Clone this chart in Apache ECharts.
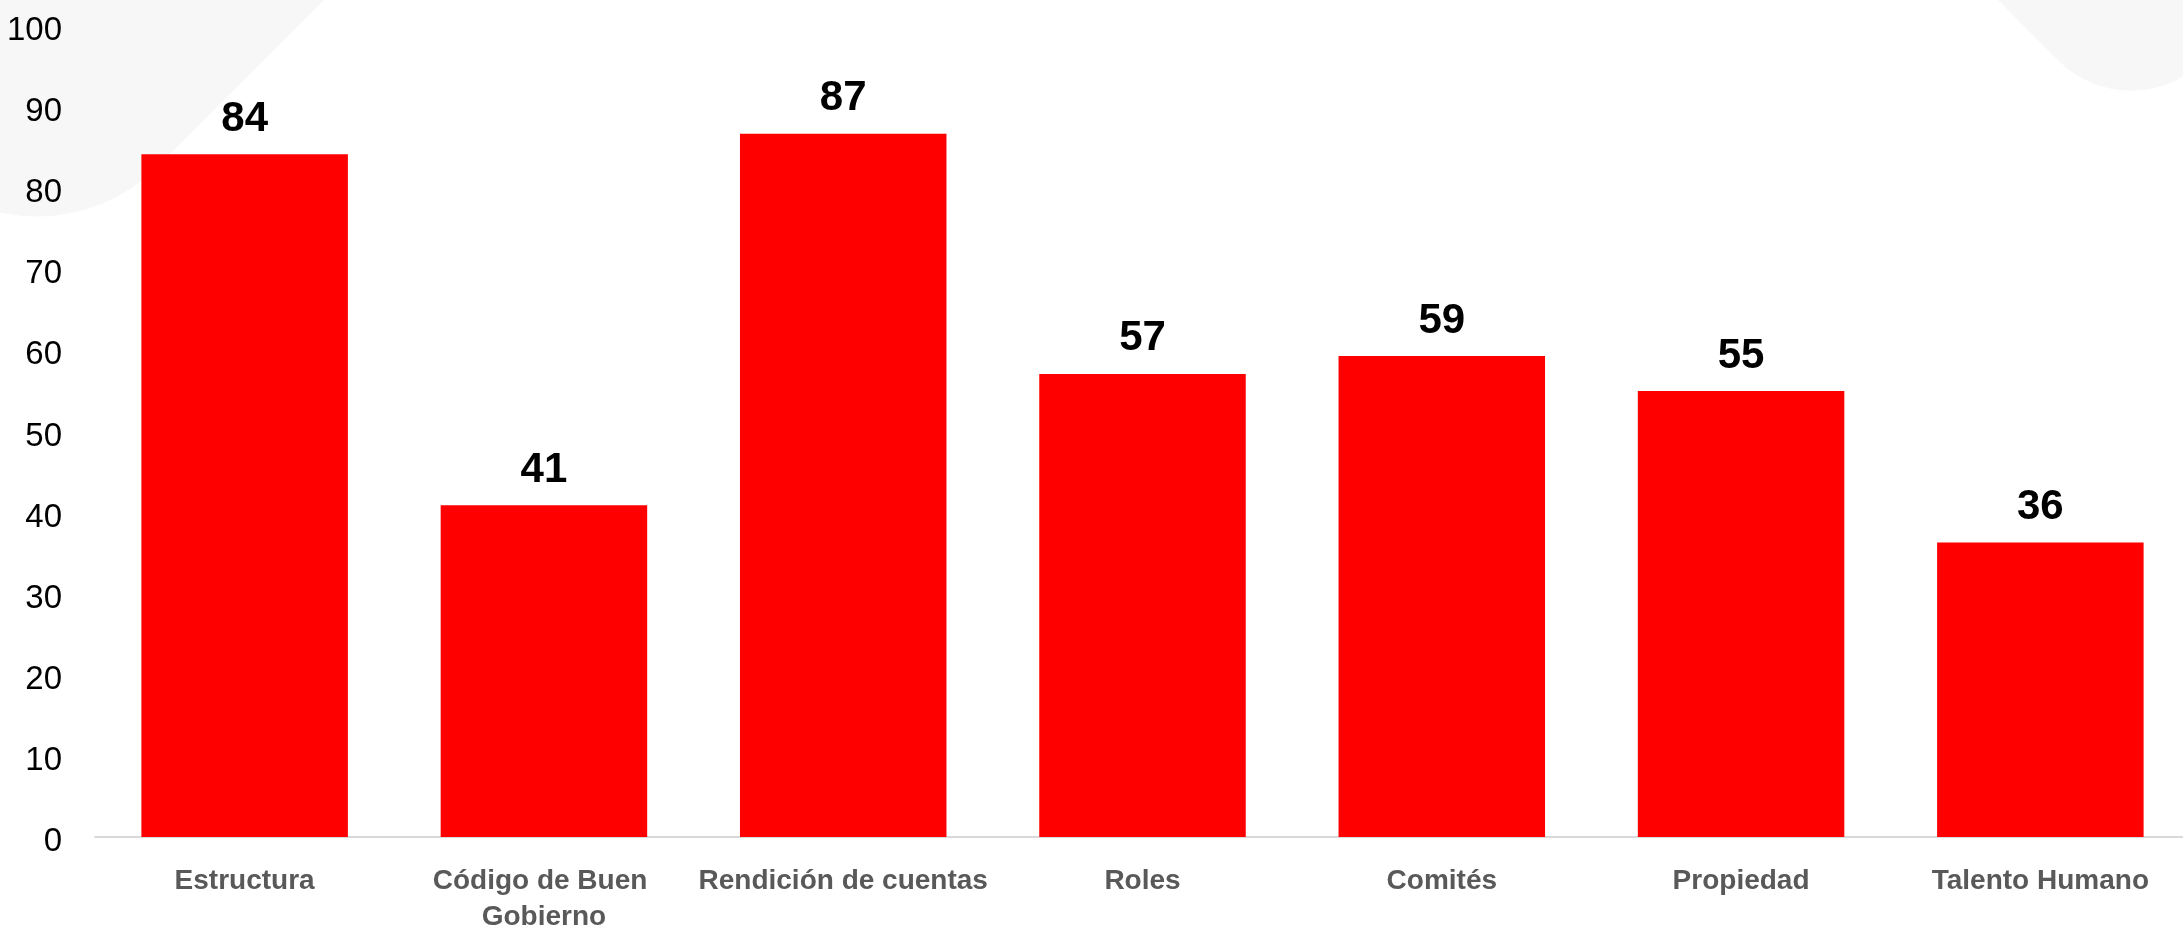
<!DOCTYPE html>
<html>
<head>
<meta charset="utf-8">
<script src="https://cdn.jsdelivr.net/npm/echarts@6/dist/echarts.min.js"></script>
<style>
html,body{margin:0;padding:0;background:#fff;}
#chart{width:2183px;height:929px;}
</style>
</head>
<body>
<div id="chart"></div>
<script>
const categories = ['Estructura', 'Código de Buen Gobierno', 'Rendición de cuentas', 'Roles', 'Comités', 'Propiedad', 'Talento Humano'];
const values = [84.2, 40.9, 86.7, 57.1, 59.3, 55.0, 36.3];
const yTicks = [0, 10, 20, 30, 40, 50, 60, 70, 80, 90, 100];

const FONT = '"Liberation Sans Narrow", "Arial Narrow", "Liberation Sans", Arial, sans-serif';
const chart = echarts.init(document.getElementById('chart'));
const S = 800, H = S / Math.SQRT2;
chart.setOption({
  animation: false,
  backgroundColor: '#ffffff',
  graphic: [
    { type: 'rect', z: -10, silent: true, x: 37, y: 287 - H, rotation: Math.PI / 4,
      shape: { x: -S / 2, y: -S / 2, width: S, height: S, r: 170 },
      style: { fill: '#f7f7f7' } },
    { type: 'rect', z: -10, silent: true, x: 2131, y: 133 - H, rotation: Math.PI / 4,
      shape: { x: -S / 2, y: -S / 2, width: S, height: S, r: 102 },
      style: { fill: '#f7f7f7' } }
  ],
  grid: { left: 95, right: -7, top: 26, bottom: 92, containLabel: false, outerBoundsMode: 'none' },
  xAxis: {
    type: 'category',
    data: categories,
    axisLine: { show: true, lineStyle: { color: '#d9d9d9', width: 2 } },
    axisTick: { show: false },
    axisLabel: {
      interval: 0,
      margin: 26,
      color: '#595959',
      fontFamily: FONT,
      fontWeight: 'bold',
      fontSize: 28,
      lineHeight: 36,
      width: 325,
      overflow: 'break'
    },
    splitLine: { show: false }
  },
  yAxis: {
    type: 'value',
    min: yTicks[0],
    max: yTicks[yTicks.length - 1],
    interval: yTicks[1] - yTicks[0],
    axisLine: { show: false },
    axisTick: { show: false },
    splitLine: { show: false },
    axisLabel: {
      margin: 33,
      formatter: '{v|{value}}',
      rich: {
        v: {
          color: '#000000',
          fontFamily: FONT,
          fontSize: 33,
          padding: [10, 0, 0, 0]
        }
      }
    }
  },
  series: [{
    type: 'bar',
    data: values,
    barWidth: '69%',
    itemStyle: { color: '#ff0000' },
    label: {
      show: true,
      position: 'top',
      distance: 14,
      color: '#000000',
      fontFamily: FONT,
      fontWeight: 'bold',
      fontSize: 42,
      formatter: p => Math.round(p.value)
    }
  }]
});
</script>
</body>
</html>
